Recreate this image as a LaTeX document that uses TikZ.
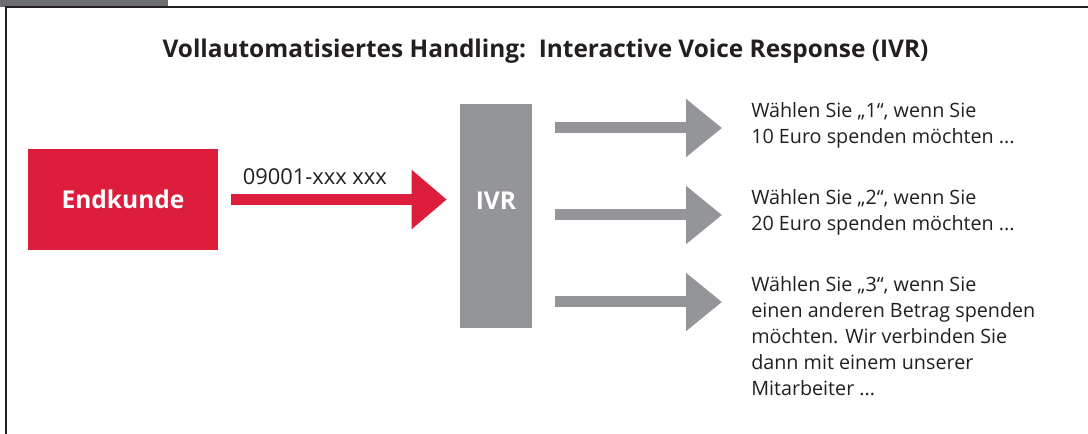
\documentclass[tikz,border=0pt]{standalone}
\usepackage{fontspec}
\setmainfont{Open Sans}
\usetikzlibrary{arrows.meta}

\definecolor{ivrred}{RGB}{220,30,60}
\definecolor{ivrgray}{RGB}{148,149,153}
\definecolor{tabgray}{RGB}{109,110,114}
\definecolor{darktext}{RGB}{35,31,32}

\begin{document}
\begin{tikzpicture}[x=0.75pt,y=-0.75pt]
    \useasboundingbox (0,0) rectangle (1088,434);

    % frame
    \fill[tabgray] (0,0) rectangle (168,7);
    \draw[darktext, line width=1.5pt] (6,434) -- (6,7) -- (1088,7);

    \node[text=darktext, font=\bfseries\fontsize{18.3}{21}\selectfont] (title) at (545.5,51)
        {Vollautomatisiertes Handling:\ \ Interactive Voice Response (IVR)};

    \begin{scope}[every node/.style={inner sep=0pt, text=white, font=\bfseries\fontsize{18.4}{21}\selectfont}]
        \node[fill=ivrred, minimum width=142.5pt, minimum height=75.75pt] (kunde) at (123,199.5) {Endkunde};
        \node[fill=ivrgray, minimum width=54pt, minimum height=168pt,
              label={[yshift=12pt]center:IVR}] (ivr) at (496,216.5) {};
    \end{scope}

    \begin{scope}[every node/.style={anchor=north west, align=left, inner sep=0pt, text=darktext,
                  font=\fontsize{14.8}{19.5}\selectfont}]
        \node (opt1) at (751,102) {Wählen Sie „1“,\ wenn Sie\\10 Euro spenden möchten ...};
        \node (opt2) at (751,189) {Wählen Sie „2“,\ wenn Sie\\20 Euro spenden möchten ...};
        \node (opt3) at (751,276) {Wählen Sie „3“,\ wenn Sie\\einen anderen Betrag spenden\\möchten. Wir verbinden Sie\\dann mit einem unserer\\Mitarbeiter ...};
    \end{scope}

    \coordinate (a1) at (722,128);
    \coordinate (a2) at (722,215);
    \coordinate (a3) at (722,302);

    \begin{scope}[every edge/.style={draw=ivrgray, line width=8.25pt,
                  -{Triangle[length=27pt, width=42pt]}, shorten <=17.25pt}]
        \path (ivr.east |- a1) edge (a1);
        \path (ivr.east |- a2) edge (a2);
        \path (ivr.east |- a3) edge (a3);
    \end{scope}

    \path (kunde.east) edge [draw=ivrred, line width=8.25pt, -{Triangle[length=26.25pt, width=42.75pt]},
        shorten <=9.75pt, shorten >=9.75pt]
        node [pos=0.4, above=4pt, text=darktext, font=\fontsize{16.4}{19}\selectfont] (nummer) {09001-xxx xxx}
        (kunde.east -| ivr.west);

\end{tikzpicture}
\end{document}
